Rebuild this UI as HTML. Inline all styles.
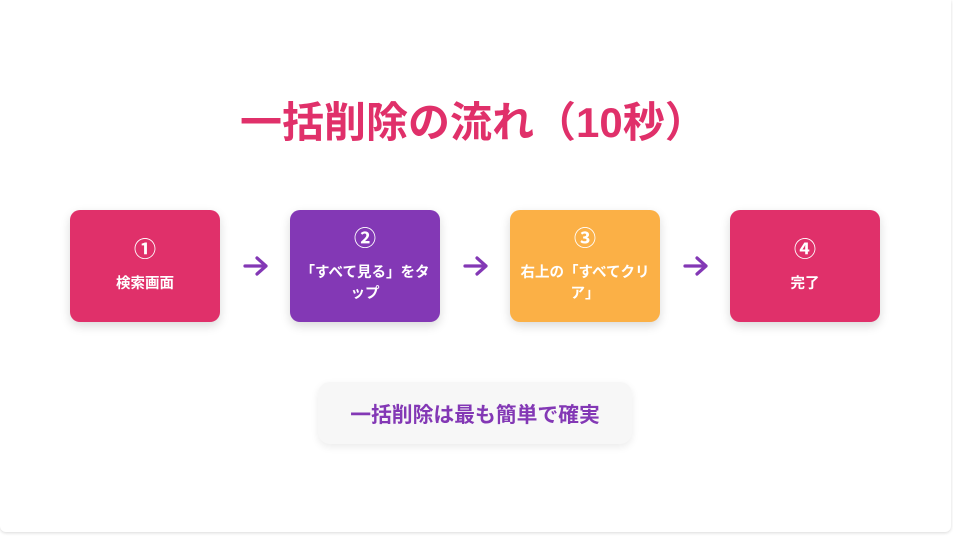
<!DOCTYPE html>
<html><head><meta charset="utf-8"><style>
html,body{margin:0;padding:0;width:953px;height:537px;background:#fff;overflow:hidden;font-family:"Liberation Sans","Noto Sans CJK JP",sans-serif;}
.card{position:absolute;left:0;top:0;width:951px;height:532px;background:#fff;border-radius:0 0 6px 6px;box-shadow:0 1px 3px rgba(0,0,0,0.15);}
.title{position:absolute;left:240px;white-space:nowrap;top:93px;font-size:42px;font-weight:bold;color:#e0306a;line-height:60px;}
.box{position:absolute;top:210px;width:150px;height:112px;border-radius:10px;color:#fff;display:flex;flex-direction:column;align-items:center;justify-content:center;text-align:center;box-shadow:0 4px 10px rgba(0,0,0,0.15);}
.num{font-size:22px;line-height:24px;font-weight:bold;margin-bottom:12px;}
.txt{font-size:14.5px;line-height:21px;font-weight:bold;padding:0 5px;}
.arrow{position:absolute;top:254px;width:28px;height:24px;}
.sum{position:absolute;left:318px;top:382px;width:314px;height:62px;background:#f7f7f7;border-radius:12px;box-shadow:0 3px 8px rgba(0,0,0,0.08);display:flex;align-items:center;justify-content:center;color:#8338b5;font-weight:bold;font-size:20.8px;}
</style></head><body>
<div class="card"></div>
<div class="title">一括削除の流れ（10秒）</div>
<div class="box" style="left:70px;background:#e0306a"><div class="num">①</div><div class="txt">検索画面</div></div>
<div class="box" style="left:290px;background:#8338b5"><div class="num">②</div><div class="txt">「すべて見る」をタップ</div></div>
<div class="box" style="left:510px;background:#fbb046"><div class="num">③</div><div class="txt">右上の「すべてクリア」</div></div>
<div class="box" style="left:730px;background:#e0306a"><div class="num">④</div><div class="txt">完了</div></div>
<svg class="arrow" style="left:242px" viewBox="0 0 28 24"><path d="M3 12H24M15 4L24 12L15 20" fill="none" stroke="#8338b5" stroke-width="3.2" stroke-linecap="round" stroke-linejoin="round"/></svg>
<svg class="arrow" style="left:462px" viewBox="0 0 28 24"><path d="M3 12H24M15 4L24 12L15 20" fill="none" stroke="#8338b5" stroke-width="3.2" stroke-linecap="round" stroke-linejoin="round"/></svg>
<svg class="arrow" style="left:682px" viewBox="0 0 28 24"><path d="M3 12H24M15 4L24 12L15 20" fill="none" stroke="#8338b5" stroke-width="3.2" stroke-linecap="round" stroke-linejoin="round"/></svg>
<div class="sum">一括削除は最も簡単で確実</div>
</body></html>
